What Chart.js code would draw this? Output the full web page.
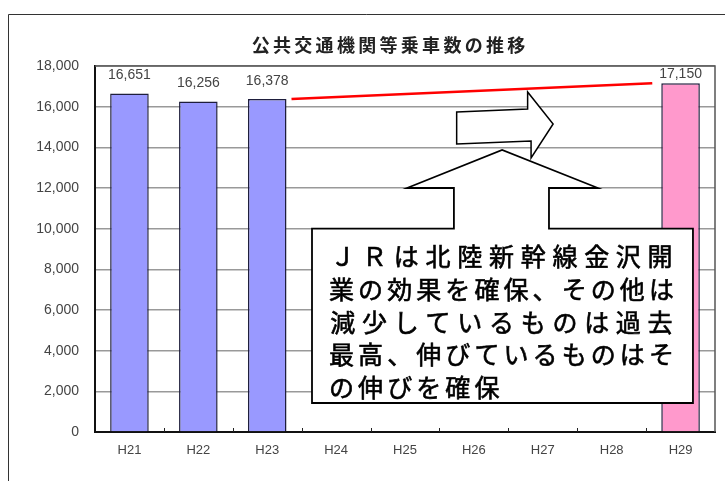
<!DOCTYPE html>
<html>
<head>
<meta charset="utf-8">
<script src="https://cdn.jsdelivr.net/npm/chart.js@4/dist/chart.umd.min.js"></script>
<style>
html, body { margin: 0; padding: 0; background: #fff; }
#wrap { width: 725px; height: 481px; }
</style>
</head>
<body>
<div id="wrap"><canvas id="barChart" width="725" height="481"></canvas></div>
<script>
// data
var years = ['H21', 'H22', 'H23', 'H24', 'H25', 'H26', 'H27', 'H28', 'H29'];
var riders = [16651, 16256, 16378, null, null, null, null, null, 17150];
var barColors = ['#9999ff', '#9999ff', '#9999ff', '#9999ff', '#9999ff', '#9999ff', '#9999ff', '#9999ff', '#ff99cc'];
var yMax = 18000;
var yStep = 2000;
var chartTitle = '公共交通機関等乗車数の推移';
var noteLines = ['ＪＲは北陸新幹線金沢開', '業の効果を確保、その他は', '減少しているものは過去', '最高、伸びているものはそ', 'の伸びを確保'];
var trendFrom = 2, trendTo = 8; // red line H23 -> H29

var numFont = '"Liberation Sans", Arial, sans-serif';
var jpFont = '"Noto Sans CJK JP", sans-serif';

// helpers: category position (fractional index) and value -> pixel
function cx(chart, c) {
    var xs = chart.scales.x;
    var step = xs.getPixelForValue(1) - xs.getPixelForValue(0);
    return xs.getPixelForValue(0) + c * step;
}
function vy(chart, v) {
    return chart.scales.y.getPixelForValue(v);
}

var decor = {
    id: 'decor',
    beforeDraw: function (chart) {
        var ctx = chart.ctx;
        ctx.save();
        ctx.fillStyle = '#fff';
        ctx.fillRect(0, 0, chart.width, chart.height);
        // outer frame (left + top)
        ctx.strokeStyle = '#333';
        ctx.lineWidth = 1;
        ctx.beginPath();
        ctx.moveTo(8.5, chart.height);
        ctx.lineTo(8.5, 14.5);
        ctx.lineTo(chart.width, 14.5);
        ctx.stroke();
        // title, drawn char by char for the wide spacing
        ctx.fillStyle = '#222';
        ctx.font = 'bold 18px ' + jpFont;
        ctx.textAlign = 'center';
        ctx.textBaseline = 'middle';
        var chars = Array.from(chartTitle);
        var adv = 21.3;
        var x0 = 388.5 - adv * chars.length / 2;
        chars.forEach(function (ch, k) {
            ctx.fillText(ch, x0 + adv * (k + 0.5), 45.5);
        });
        ctx.restore();
    },
    afterDatasetsDraw: function (chart) {
        var ctx = chart.ctx;
        var area = chart.chartArea;
        var meta = chart.getDatasetMeta(0);
        ctx.save();

        // plot frame top + right
        ctx.strokeStyle = '#555';
        ctx.lineWidth = 1.5;
        ctx.beginPath();
        ctx.moveTo(area.left, area.top);
        ctx.lineTo(area.right, area.top);
        ctx.lineTo(area.right, area.bottom);
        ctx.stroke();

        // small inner ticks on the x axis between categories
        ctx.strokeStyle = '#222';
        ctx.lineWidth = 1;
        for (var i = 1; i < years.length; i++) {
            var tx = Math.round(cx(chart, i - 0.5)) + 0.5;
            ctx.beginPath();
            ctx.moveTo(tx, area.bottom - 4);
            ctx.lineTo(tx, area.bottom);
            ctx.stroke();
        }

        // value labels (kept inside the plot frame)
        ctx.fillStyle = '#444';
        ctx.font = '14px ' + numFont;
        ctx.textAlign = 'center';
        ctx.textBaseline = 'bottom';
        meta.data.forEach(function (bar, k) {
            if (riders[k] == null) return;
            var ly = Math.max(bar.y - 11, area.top + 15);
            ctx.fillText(riders[k].toLocaleString('en-US'), bar.x, ly);
        });

        // right block arrow
        var ra = [[4.75, 15738], [5.78, 15885], [5.78, 16721], [6.15, 15147], [5.83, 13475], [5.83, 14311], [4.75, 14164]];
        ctx.fillStyle = '#fff';
        ctx.strokeStyle = '#000';
        ctx.lineWidth = 1.5;
        ctx.lineJoin = 'miter';
        ctx.beginPath();
        ra.forEach(function (p, k) {
            var px = cx(chart, p[0]), py = vy(chart, p[1]);
            if (k === 0) ctx.moveTo(px, py); else ctx.lineTo(px, py);
        });
        ctx.closePath();
        ctx.fill();
        ctx.stroke();

        // callout box with upward arrow
        var boxL = 2.65, boxR = 8.18, boxT = 10000, boxB = 1426;
        var co = [[boxL, boxT], [4.71, boxT], [4.71, 12000], [4.03, 12000], [5.41, 13869],
                  [6.80, 12000], [6.09, 12000], [6.09, boxT], [boxR, boxT], [boxR, boxB], [boxL, boxB]];
        ctx.beginPath();
        co.forEach(function (p, k) {
            var px = cx(chart, p[0]), py = vy(chart, p[1]);
            if (k === 0) ctx.moveTo(px, py); else ctx.lineTo(px, py);
        });
        ctx.closePath();
        ctx.fill();
        ctx.lineWidth = 1.8;
        ctx.stroke();

        // callout text (thin stroke to thicken the glyphs a bit)
        ctx.fillStyle = '#000';
        ctx.strokeStyle = '#000';
        ctx.lineWidth = 0.6;
        ctx.font = '25px ' + jpFont;
        ctx.textAlign = 'center';
        ctx.textBaseline = 'middle';
        var tL = cx(chart, boxL) + 15, tR = cx(chart, boxR) - 17;
        var top = vy(chart, boxT);
        var normalAdv = (tR - tL) / 12;
        noteLines.forEach(function (line, j) {
            var chars = Array.from(line);
            var adv = j < noteLines.length - 1 ? (tR - tL) / chars.length : normalAdv;
            var ly = top + 28 + j * 32.7;
            chars.forEach(function (ch, k) {
                ctx.fillText(ch, tL + adv * (k + 0.5), ly);
                ctx.strokeText(ch, tL + adv * (k + 0.5), ly);
            });
        });

        // red trend line between H23 and H29
        var b1 = meta.data[trendFrom], b2 = meta.data[trendTo];
        ctx.strokeStyle = '#ff0000';
        ctx.lineWidth = 2.5;
        ctx.beginPath();
        ctx.moveTo(b1.x + b1.width / 2 + 5, vy(chart, riders[trendFrom]));
        ctx.lineTo(b2.x - b2.width / 2 - 9, vy(chart, riders[trendTo]));
        ctx.stroke();

        ctx.restore();
    }
};

var ctx = document.getElementById('barChart').getContext('2d');
var myChart = new Chart(ctx, {
    type: 'bar',
    data: {
        labels: years,
        datasets: [{
            label: chartTitle,
            data: riders,
            backgroundColor: barColors,
            borderColor: '#1e1e3c',
            borderWidth: 1.5,
            barPercentage: 0.56,
            categoryPercentage: 1
        }]
    },
    options: {
        responsive: false,
        animation: false,
        layout: { padding: { top: 66, right: 10, left: 0, bottom: 0 } },
        plugins: {
            legend: { display: false },
            title: { display: false },
            tooltip: { enabled: false }
        },
        scales: {
            x: {
                grid: { display: true, drawOnChartArea: false, drawTicks: false },
                border: { display: true, color: '#111', width: 2 },
                ticks: { color: '#444', font: { family: numFont, size: 13 }, padding: 11 },
                afterFit: function (s) { s.height = 49; }
            },
            y: {
                min: 0,
                max: yMax,
                grid: { color: '#999', lineWidth: 1.5, drawTicks: false },
                border: { display: true, color: '#111', width: 2 },
                ticks: {
                    stepSize: yStep,
                    color: '#444',
                    padding: 16,
                    font: { family: numFont, size: 14 },
                    callback: function (v) { return v.toLocaleString('en-US'); }
                },
                afterFit: function (s) { s.width = 95; }
            }
        }
    },
    plugins: [decor]
});
</script>
</body>
</html>
